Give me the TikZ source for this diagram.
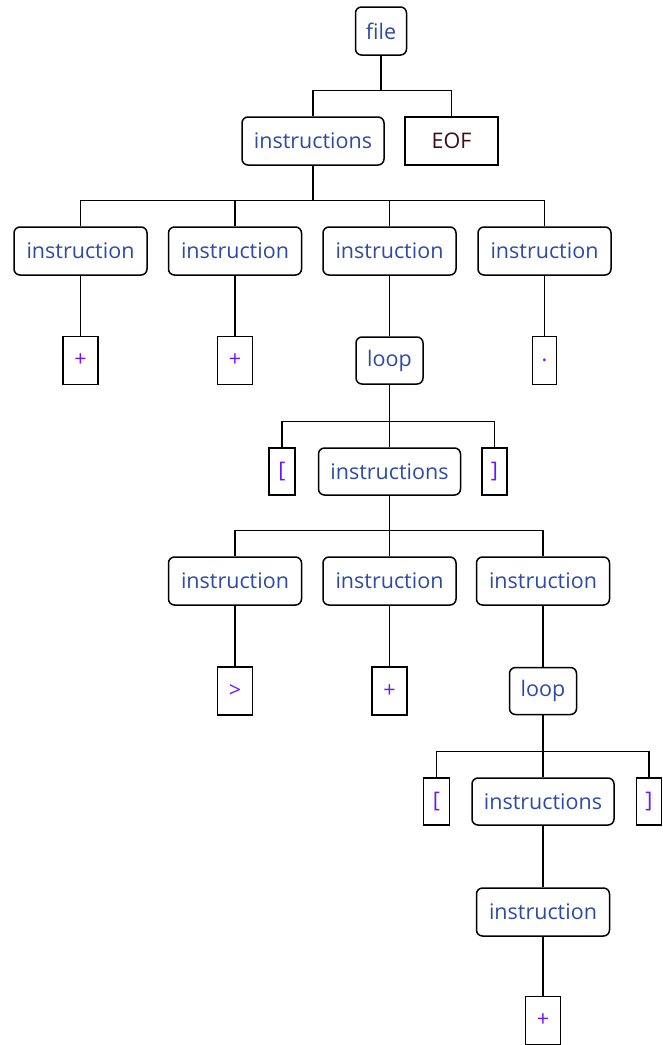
\documentclass[tikz,border=0pt]{standalone}
\usepackage{fontspec}
\setmainfont{Open Sans}
\definecolor{ruletext}{RGB}{44,74,166}
\definecolor{tokentext}{RGB}{110,20,255}
\definecolor{eoftext}{RGB}{64,12,24}
\tikzset{
  base/.style={draw=black, line width=1.5pt, inner sep=0pt, font=\fontsize{21.5}{25}\selectfont},
  rule/.style={base, rounded corners=6pt, text=ruletext, minimum height=48pt},
  token/.style={base, text=tokentext, minimum height=48pt},
  eofbox/.style={base, text=eoftext, minimum height=48pt},
  link/.style={line width=1.5pt, draw=black},
}
\newcommand{\fork}[2]{\draw[link] (#1.south) |- ([yshift=26pt]#2.north) -- (#2.north);}
\begin{document}
\begin{tikzpicture}[x=1pt,y=-1pt]
\useasboundingbox (0,0) rectangle (662,1045);
% root
\node[rule, minimum width=51pt] (file) at (381,31) {file};
\node[rule, minimum width=142pt] (ins0) at (313,141) {instructions};
\node[eofbox, minimum width=93pt] (eof) at (451.5,141) {EOF};
% top-level instructions
\node[rule, minimum width=133pt] (i1) at (80.5,251) {instruction};
\node[rule, minimum width=133pt] (i2) at (235,251) {instruction};
\node[rule, minimum width=133pt] (i3) at (389.5,251) {instruction};
\node[rule, minimum width=133pt] (i4) at (544.5,251) {instruction};
\node[token, minimum width=35pt] (t1) at (80.5,360.5) {+};
\node[token, minimum width=35pt] (t2) at (235,360.5) {+};
\node[rule, minimum width=67pt, minimum height=47pt] (loop1) at (389.5,360.5) {loop};
\node[token, minimum width=24pt] (t4) at (544.5,360.5) {.};
% first loop body
\node[token, minimum width=26pt, minimum height=47pt] (lb1) at (282,471.5) {[};
\node[rule, minimum width=142pt, minimum height=47pt] (ins1) at (389.5,471.5) {instructions};
\node[token, minimum width=25pt, minimum height=47pt] (rb1) at (494.5,471.5) {]};
\node[rule, minimum width=133pt] (j1) at (235,581) {instruction};
\node[rule, minimum width=133pt] (j2) at (389.5,581) {instruction};
\node[rule, minimum width=133pt] (j3) at (543,581) {instruction};
\node[token, minimum width=35pt] (u1) at (235,691) {>};
\node[token, minimum width=35pt] (u2) at (389.5,691) {+};
\node[rule, minimum width=67pt, minimum height=47pt] (loop2) at (543,691) {loop};
% nested loop body
\node[token, minimum width=26pt, minimum height=47pt] (lb2) at (436.5,801.5) {[};
\node[rule, minimum width=142pt, minimum height=47pt] (ins2) at (543,801.5) {instructions};
\node[token, minimum width=25pt, minimum height=47pt] (rb2) at (649,801.5) {]};
\node[rule, minimum width=133pt] (k1) at (543,912) {instruction};
\node[token, minimum width=35pt] (v1) at (543,1020.5) {+};
% connectors
\fork{file}{ins0} \fork{file}{eof}
\fork{ins0}{i1} \fork{ins0}{i2} \fork{ins0}{i3} \fork{ins0}{i4}
\draw[link] (i1) -- (t1);
\draw[link] (i2) -- (t2);
\draw[link] (i3) -- (loop1);
\draw[link] (i4) -- (t4);
\fork{loop1}{lb1} \fork{loop1}{ins1} \fork{loop1}{rb1}
\fork{ins1}{j1} \fork{ins1}{j2} \fork{ins1}{j3}
\draw[link] (j1) -- (u1);
\draw[link] (j2) -- (u2);
\draw[link] (j3) -- (loop2);
\fork{loop2}{lb2} \fork{loop2}{ins2} \fork{loop2}{rb2}
\draw[link] (ins2) -- (k1);
\draw[link] (k1) -- (v1);
\end{tikzpicture}
\end{document}
